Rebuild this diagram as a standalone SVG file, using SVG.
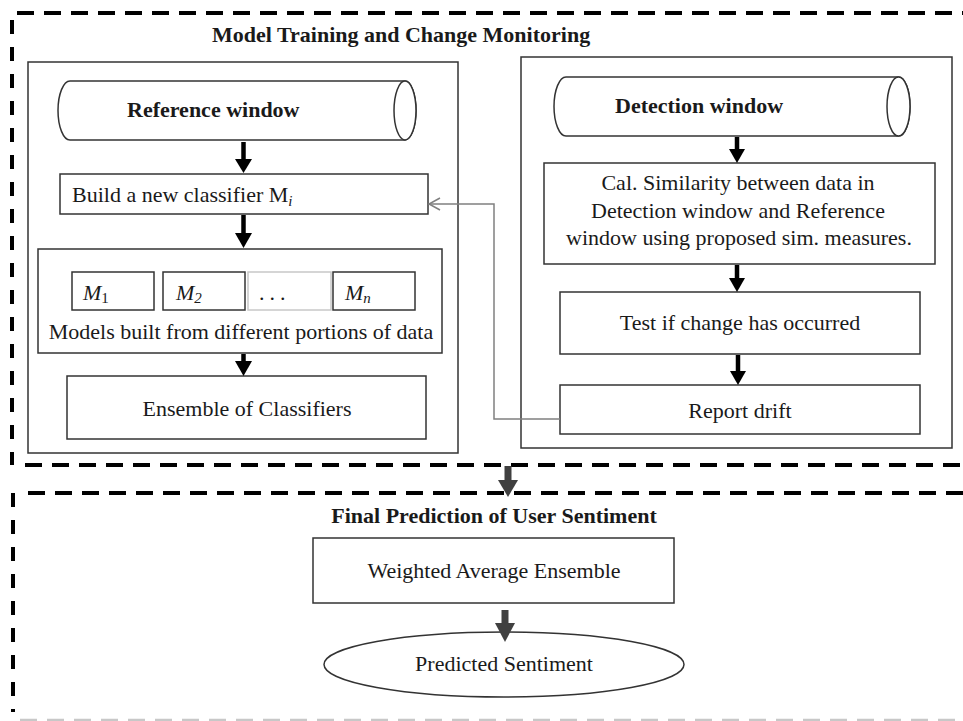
<svg xmlns="http://www.w3.org/2000/svg" width="963" height="721" viewBox="0 0 963 721">
<defs>
<style>
text{font-family:"Liberation Serif","Times New Roman",serif;font-size:22px;fill:#1a1a1a}
.b{font-weight:bold}
.m{text-anchor:middle}
.box{fill:#fff;stroke:#333;stroke-width:1.5}
.panel{fill:none;stroke:#333;stroke-width:1.5}
.dh{fill:none;stroke:#000;stroke-width:4;stroke-dasharray:17 10}
.dv{fill:none;stroke:#000;stroke-width:4;stroke-dasharray:14 13}
.arr{stroke:#000;stroke-width:4.5;fill:none}
.head{fill:#000}
.garr{stroke:#404040;stroke-width:7;fill:none}
.ghead{fill:#404040}
.fb{fill:none;stroke:#808080;stroke-width:1.5}
</style>
</defs>
<rect width="963" height="721" fill="#fff"/>

<g id="section-top">
<path class="dh" d="M17,13 H963"/>
<path class="dv" d="M12,20 V465"/>
<path class="dh" d="M25,465 H963"/>
<text class="b" x="212" y="42">Model Training and Change Monitoring</text>
</g>

<g id="section-bottom">
<path class="dh" d="M28,493 H963"/>
<path class="dv" d="M13,493 V712"/>
<path d="M20,720 H963" fill="none" stroke="#c8c8c8" stroke-width="2.5" stroke-dasharray="17 10"/>
<text class="b m" x="494" y="523">Final Prediction of User Sentiment</text>
</g>

<g id="panel-left"><rect class="panel" x="28" y="62" width="430" height="391"/></g>
<g id="panel-right"><rect class="panel" x="521" y="57" width="431" height="391"/></g>

<g id="reference-window">
<path class="box" d="M70,81 H405 A11,29.5 0 0 1 405,140 H70 A12,29.5 0 0 1 70,81 Z"/>
<ellipse class="box" cx="405" cy="110.5" rx="11" ry="29.5"/>
<text class="b" x="127" y="117">Reference window</text>
</g>

<g id="build-classifier">
<rect class="box" x="60" y="174" width="368" height="40"/>
<text x="72" y="202">Build a new classifier M<tspan font-style="italic" font-size="15" dy="4">i</tspan></text>
</g>

<g id="models">
<rect class="box" x="38" y="249" width="404" height="104"/>
<rect class="box" x="72" y="272" width="82" height="38"/>
<rect class="box" x="163" y="272" width="82" height="38"/>
<rect x="248" y="272" width="83" height="38" fill="#fff" stroke="#c8c8c8" stroke-width="1.5"/>
<rect class="box" x="333" y="272" width="82" height="38"/>
<text x="83" y="300"><tspan font-style="italic">M</tspan><tspan font-size="15" dy="3">1</tspan></text>
<text x="176" y="300"><tspan font-style="italic">M</tspan><tspan font-style="italic" font-size="15" dy="3">2</tspan></text>
<text x="259" y="300" letter-spacing="5">...</text>
<text x="345" y="300"><tspan font-style="italic">M</tspan><tspan font-style="italic" font-size="15" dy="3">n</tspan></text>
<text class="m" x="241" y="339">Models built from different portions of data</text>
</g>

<g id="ensemble">
<rect class="box" x="67" y="376" width="359" height="63"/>
<text class="m" x="247" y="416">Ensemble of Classifiers</text>
</g>

<g id="detection-window">
<path class="box" d="M566,77 H898.5 A11.5,29.5 0 0 1 898.5,136 H566 A12,29.5 0 0 1 566,77 Z"/>
<ellipse class="box" cx="898.5" cy="106.5" rx="11.5" ry="29.5"/>
<text class="b" x="615" y="113">Detection window</text>
</g>

<g id="similarity">
<rect class="box" x="544" y="163" width="391" height="101"/>
<text class="m" x="738" y="190">Cal. Similarity between data in</text>
<text class="m" x="738" y="218">Detection window and Reference</text>
<text class="m" x="739" y="245">window using proposed sim. measures.</text>
</g>

<g id="test-change">
<rect class="box" x="560" y="292" width="360" height="62"/>
<text class="m" x="740" y="330">Test if change has occurred</text>
</g>

<g id="report-drift">
<rect class="box" x="560" y="385" width="360" height="49"/>
<text class="m" x="740" y="418">Report drift</text>
</g>

<g id="weighted">
<rect class="box" x="313" y="538" width="361" height="65"/>
<text class="m" x="494" y="578">Weighted Average Ensemble</text>
</g>

<g id="predicted">
<ellipse class="box" cx="504" cy="664.5" rx="180" ry="32.5"/>
<text class="m" x="504" y="671">Predicted Sentiment</text>
</g>

<g id="connectors">
<line class="arr" x1="243.5" y1="142" x2="243.5" y2="161"/>
<polygon class="head" points="235,159 252,159 243.5,173"/>
<line class="arr" x1="243.5" y1="215" x2="243.5" y2="235"/>
<polygon class="head" points="235,233 252,233 243.5,248"/>
<line class="arr" x1="243.5" y1="354" x2="243.5" y2="363"/>
<polygon class="head" points="235,361 252,361 243.5,376"/>
<line class="arr" x1="737" y1="137" x2="737" y2="151"/>
<polygon class="head" points="729,149 745,149 737,163"/>
<line class="arr" x1="737" y1="265" x2="737" y2="280"/>
<polygon class="head" points="729,278 745,278 737,292"/>
<line class="arr" x1="738" y1="355" x2="738" y2="373"/>
<polygon class="head" points="730,371 746,371 738,385"/>
<path class="fb" d="M560,419 H494 V204 H429"/>
<path class="fb" d="M440,198 L429,204 L440,210"/>
<line class="garr" x1="508" y1="466" x2="508" y2="482"/>
<polygon class="ghead" points="498,480 518,480 508,497"/>
<line class="garr" x1="505" y1="610" x2="505" y2="625"/>
<polygon class="ghead" points="495,623 515,623 505,642"/>
</g>
</svg>
